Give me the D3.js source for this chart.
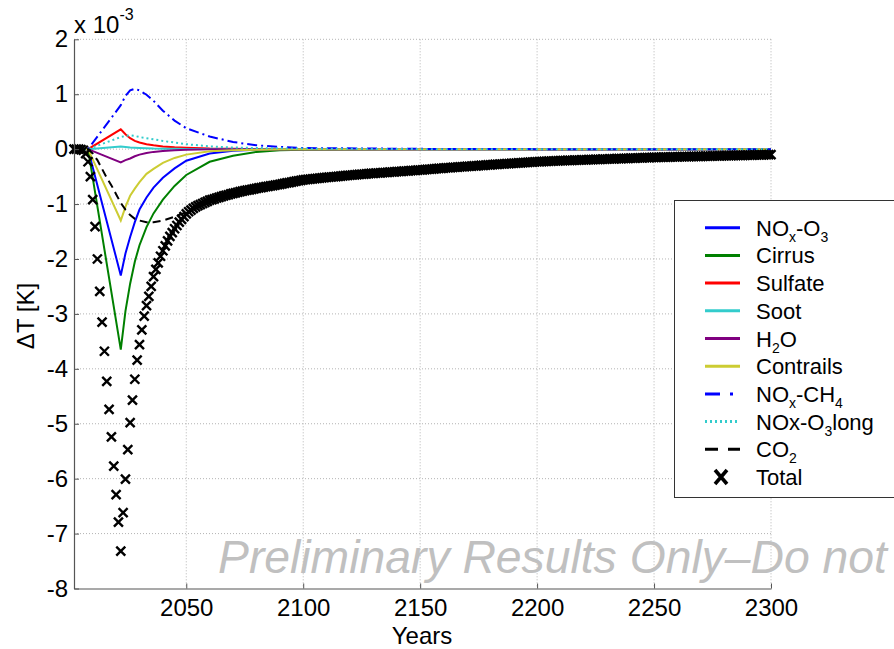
<!DOCTYPE html>
<html><head><meta charset="utf-8">
<script src="https://cdn.jsdelivr.net/npm/d3@7"></script>
<style>
body{margin:0;background:#fff;}
svg{display:block;font-family:"Liberation Sans",Arial,Helvetica,sans-serif;}
</style></head><body>
<svg id="c" width="894" height="649"></svg>
<script>
// ---------- data (values in units of 1e-3 K) ----------
const compYears = [2002,2008,2022,2024,2026,2028,2030,2033,2036,2040,2045,2050,2060,2070,2080,2090,2100,2150,2200,2250,2300];
const noxO3     = [0,0,-2.3,-1.9,-1.6,-1.33,-1.1,-0.88,-0.7,-0.52,-0.35,-0.21,-0.08,-0.03,-0.01,0,0,0,0,0,0];
const cirrus    = [0,0,-3.65,-2.95,-2.45,-2.05,-1.75,-1.42,-1.17,-0.92,-0.67,-0.47,-0.23,-0.12,-0.05,-0.02,-0.01,0,0,0,0];
const sulfate   = [0,0,0.36,0.27,0.2,0.15,0.12,0.09,0.07,0.05,0.035,0.025,0.01,0.005,0,0,0,0,0,0,0];
const soot      = [0,0,0.05,0.04,0.03,0.025,0.02,0.015,0.01,0.008,0.005,0.003,0.001,0,0,0,0,0,0,0,0];
const h2o       = [0,0,-0.24,-0.2,-0.17,-0.13,-0.1,-0.07,-0.05,-0.035,-0.02,-0.01,0,0,0,0,0,0,0,0,0];
const contrails = [0,0,-1.3,-1.05,-0.85,-0.72,-0.6,-0.45,-0.36,-0.25,-0.16,-0.1,-0.04,-0.02,-0.01,0,0,0,0,0,0];
const noxCH4    = [0,0,0.8,0.97,1.07,1.1,1.07,0.99,0.88,0.7,0.52,0.38,0.23,0.13,0.07,0.04,0.02,0.005,0,0,0];
const noxO3long = [0,0,0.22,0.24,0.25,0.24,0.22,0.2,0.18,0.15,0.12,0.09,0.05,0.03,0.02,0.015,0.01,0,0,0,0];
const co2Years  = [2002,2008,2010,2012,2014,2016,2018,2020,2022,2024,2026,2028,2030,2033,2036,2040,2045,2050,2060,2070,2080,2090,2100,2125,2150,2175,2200,2250,2300];
const co2       = [0,0,-0.08,-0.2,-0.36,-0.52,-0.66,-0.82,-0.98,-1.1,-1.2,-1.27,-1.3,-1.33,-1.33,-1.3,-1.23,-1.15,-0.88,-0.76,-0.67,-0.6,-0.55,-0.45,-0.37,-0.3,-0.23,-0.15,-0.1];
const totalStart = 2002;
const total = [
 0,0,0,-0.01,-0.02,-0.08,-0.23,-0.5,-0.92,-1.41,
 -2.0,-2.59,-3.15,-3.68,-4.23,-4.74,-5.24,-5.77,-6.29,-6.79,
 -7.32,-6.62,-6.01,-5.47,-4.98,-4.57,-4.19,-3.84,-3.56,-3.29,
 -3.04,-2.85,-2.68,-2.5,-2.32,-2.19,-2.07,-1.95,-1.85,-1.76,
 -1.67,-1.59,-1.52,-1.45,-1.39,-1.33,-1.28,-1.23,-1.18,
 -1.14,-1.11,-1.08,-1.05,-1.03,-1.01,-0.99,-0.97,-0.95,-0.93,
 -0.92,-0.905,-0.89,-0.88,-0.865,-0.85,-0.84,-0.83,-0.815,-0.805,
 -0.795,-0.785,-0.775,-0.766,-0.757,-0.748,-0.74,-0.731,-0.723,-0.715,
 -0.707,-0.699,-0.691,-0.684,-0.677,-0.67,-0.663,-0.656,-0.648,-0.64,
 -0.632,-0.624,-0.616,-0.608,-0.6,-0.592,-0.584,-0.576,-0.568,-0.56,
 -0.556,-0.551,-0.547,-0.542,-0.538,-0.533,-0.529,-0.524,-0.52,-0.515,
 -0.511,-0.507,-0.503,-0.499,-0.495,-0.491,-0.487,-0.483,-0.479,-0.475,
 -0.471,-0.468,-0.464,-0.461,-0.457,-0.454,-0.45,-0.447,-0.443,-0.44,
 -0.437,-0.434,-0.431,-0.428,-0.425,-0.422,-0.419,-0.416,-0.413,-0.41,
 -0.407,-0.404,-0.401,-0.398,-0.395,-0.392,-0.389,-0.386,-0.383,-0.38,
 -0.377,-0.373,-0.37,-0.366,-0.363,-0.359,-0.356,-0.352,-0.349,-0.345,
 -0.342,-0.339,-0.336,-0.333,-0.33,-0.327,-0.324,-0.321,-0.318,-0.315,
 -0.312,-0.309,-0.306,-0.303,-0.3,-0.297,-0.294,-0.291,-0.288,-0.285,
 -0.282,-0.279,-0.277,-0.274,-0.271,-0.268,-0.265,-0.263,-0.26,-0.257,
 -0.254,-0.251,-0.249,-0.246,-0.243,-0.241,-0.238,-0.235,-0.233,-0.23,
 -0.228,-0.226,-0.224,-0.222,-0.22,-0.218,-0.216,-0.214,-0.212,-0.21,
 -0.209,-0.207,-0.206,-0.204,-0.203,-0.201,-0.2,-0.198,-0.197,-0.195,
 -0.194,-0.192,-0.191,-0.189,-0.188,-0.186,-0.185,-0.183,-0.182,-0.18,
 -0.179,-0.177,-0.176,-0.174,-0.173,-0.171,-0.17,-0.168,-0.167,-0.165,
 -0.164,-0.162,-0.161,-0.159,-0.158,-0.156,-0.155,-0.153,-0.152,-0.15,
 -0.149,-0.148,-0.147,-0.146,-0.145,-0.144,-0.143,-0.142,-0.141,-0.14,
 -0.139,-0.138,-0.137,-0.136,-0.135,-0.134,-0.133,-0.132,-0.131,-0.13,
 -0.129,-0.128,-0.127,-0.126,-0.125,-0.124,-0.123,-0.122,-0.121,-0.12,
 -0.119,-0.118,-0.117,-0.116,-0.115,-0.114,-0.113,-0.112,-0.111,-0.11,
 -0.109,-0.108,-0.107,-0.106,-0.105,-0.104,-0.103,-0.102,-0.101,-0.1
];
const xTicks = [2050,2100,2150,2200,2250,2300];
const yTicks = [2,1,0,-1,-2,-3,-4,-5,-6,-7,-8];

// ---------- series definitions ----------
const series = [
  {name:"NOx-O3",     label:[["NO",0],["x",1],["-O",0],["3",1]],   years:compYears, vals:noxO3,     color:"#0000ff", dash:null},
  {name:"Cirrus",     label:[["Cirrus",0]],                        years:compYears, vals:cirrus,    color:"#008000", dash:null},
  {name:"Sulfate",    label:[["Sulfate",0]],                       years:compYears, vals:sulfate,   color:"#ff0000", dash:null},
  {name:"Soot",       label:[["Soot",0]],                          years:compYears, vals:soot,      color:"#33cccc", dash:null},
  {name:"H2O",        label:[["H",0],["2",1],["O",0]],             years:compYears, vals:h2o,       color:"#800080", dash:null},
  {name:"Contrails",  label:[["Contrails",0]],                     years:compYears, vals:contrails, color:"#cccc33", dash:null},
  {name:"NOx-CH4",    label:[["NO",0],["x",1],["-CH",0],["4",1]],  years:compYears, vals:noxCH4,    color:"#0000ff", dash:"10,4,2,4"},
  {name:"NOx-O3long", label:[["NOx-O",0],["3",1],["long",0]],      years:compYears, vals:noxO3long, color:"#33cccc", dash:"2,3"},
  {name:"CO2",        label:[["CO",0],["2",1]],                    years:co2Years,  vals:co2,       color:"#000000", dash:"8,5"}
];

// ---------- layout ----------
const svg = d3.select("#c");
const x = d3.scaleLinear().domain([2002, 2300]).range([74, 771]);
const y = d3.scaleLinear().domain([-8, 2]).range([588.5, 39.3]);

// grid
const grid = svg.append("g").attr("stroke","#b4b4b4").attr("stroke-width",1).attr("stroke-dasharray","1,2");
xTicks.forEach(t => grid.append("line").attr("x1",x(t)).attr("x2",x(t)).attr("y1",y(2)).attr("y2",y(-8)));
yTicks.forEach(t => { if (t > -8) grid.append("line").attr("x1",x(2002)).attr("x2",x(2300)).attr("y1",y(t)).attr("y2",y(t)); });

// component lines
const line = d3.line().x(d => x(d[0])).y(d => y(d[1]));
series.forEach(s => {
  const pts = s.years.map((yr,i) => [yr, s.vals[i]]);
  svg.append("path").attr("d", line(pts)).attr("fill","none")
     .attr("stroke", s.color).attr("stroke-width", 2)
     .attr("stroke-dasharray", s.dash);
});

// total markers
const xMark = "M-4.5,-4.5L4.5,4.5M-4.5,4.5L4.5,-4.5";
svg.append("g").selectAll("path").data(total).join("path")
  .attr("transform", (d,i) => `translate(${x(totalStart+i)},${y(d)})`)
  .attr("d", xMark).attr("stroke","#000").attr("stroke-width",2.4).attr("fill","none");

// axes
const axisColor = "#555";
const yAxis = d3.axisLeft(y).tickValues(yTicks).tickFormat(d => String(d)).tickSizeInner(-5).tickSizeOuter(0).tickPadding(6);
const gy = svg.append("g").attr("transform",`translate(${x(2002)},0)`).call(yAxis);
const xAxis = d3.axisBottom(x).tickValues(xTicks).tickFormat(d => String(d)).tickSizeInner(-5).tickSizeOuter(0).tickPadding(10);
const gx = svg.append("g").attr("transform",`translate(0,${y(-8)})`).call(xAxis);
[gx, gy].forEach(g => {
  g.select(".domain").attr("stroke", axisColor).attr("stroke-width",1.2);
  g.selectAll(".tick line").attr("stroke", axisColor);
  g.selectAll(".tick text").attr("fill","#000").style("font-size","24px").style("font-family","Liberation Sans, Arial, sans-serif");
});

// exponent label
const ex = svg.append("text").attr("x",74).attr("y",33).style("font-size","24px").attr("fill","#000");
ex.append("tspan").text("x 10");
ex.append("tspan").attr("dy",-13).style("font-size","16px").text("-3");

// axis titles
svg.append("text").attr("x",422).attr("y",644).attr("text-anchor","middle").style("font-size","24px").text("Years");
svg.append("text").attr("transform","translate(34,316) rotate(-90)").attr("text-anchor","middle").style("font-size","24px").text("ΔT [K]");

// watermark
svg.append("text").attr("x",218).attr("y",573).style("font-size","46.3px").style("font-style","italic")
  .attr("fill","#c0c0c0").text("Preliminary Results Only–Do not");

// legend
const lg = svg.append("g");
lg.append("rect").attr("x",674.5).attr("y",200.5).attr("width",240).attr("height",297)
  .attr("fill","#fff").attr("stroke","#333").attr("stroke-width",1);
const legendItems = series.map(s => ({label:s.label, color:s.color, dash:s.dash, type:"line"}))
  .concat([{label:[["Total",0]], type:"marker"}]);
const rowY = d3.scaleLinear().domain([0, legendItems.length-1]).range([227.7, 477]);
const lDash = {"10,4,2,4":"15,10,3,10", "2,3":"2,3", "8,5":"13,10"};
legendItems.forEach((it,i) => {
  const yy = rowY(i);
  if (it.type === "line") {
    lg.append("line").attr("x1",705).attr("x2",740).attr("y1",yy).attr("y2",yy)
      .attr("stroke",it.color).attr("stroke-width",3)
      .attr("stroke-dasharray", it.dash ? lDash[it.dash] : null);
  } else {
    lg.append("path").attr("transform",`translate(721,${yy})`).attr("d","M-6,-7L6,7M-6,7L6,-7")
      .attr("stroke","#000").attr("stroke-width",3.6).attr("fill","none");
  }
  const t = lg.append("text").attr("x",756).attr("y",yy+8).style("font-size","22px").attr("fill","#000");
  let prevSub = 0;
  it.label.forEach(([txt, sub]) => {
    const ts = t.append("tspan").text(txt);
    const shift = (sub ? 6 : 0) - (prevSub ? 6 : 0);
    if (shift) ts.attr("dy", shift);
    if (sub) ts.style("font-size","14px");
    prevSub = sub;
  });
});
</script>
</body></html>
